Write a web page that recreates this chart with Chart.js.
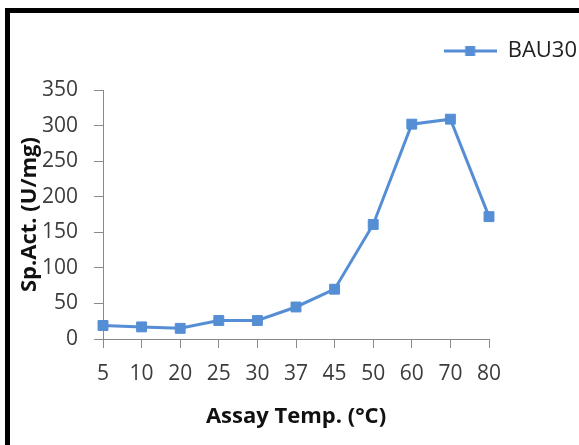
<!DOCTYPE html>
<html>
<head>
<meta charset="utf-8">
<script src="https://cdn.jsdelivr.net/npm/chart.js@4"></script>
<style>
  html, body { margin: 0; padding: 0; background: #fff; overflow: hidden; }
  #wrap { position: relative; width: 579px; height: 445px; }
  #myChart { position: absolute; left: 0; top: 0; }
  #frame {
    position: absolute; left: 5px; top: 8px; width: 700px; height: 600px;
    border-left: 5px solid #000; border-top: 5px solid #000; pointer-events: none;
  }
</style>
</head>
<body>
<div id="wrap">
  <canvas id="myChart" width="579" height="445"></canvas>
  <div id="frame"></div>
</div>
<script>
    // Assay temperatures (°C) and specific activity (U/mg)
    const temps = ['5', '10', '20', '25', '30', '37', '45', '50', '60', '70', '80'];
    const activity = [19, 17, 15, 26, 26, 45, 70, 161, 302, 309, 172];
    const yTicks = [0, 50, 100, 150, 200, 250, 300, 350];
    const seriesName = 'BAU30';

    const blue = '#558ED5';
    const axisGrey = '#898989';
    const textGrey = '#3c3c3c';
    const fontFamily = '"Open Sans", "Liberation Sans", sans-serif';

    // legend symbol: line with a square marker in the middle
    const legendSymbol = document.createElement('canvas');
    legendSymbol.width = 53;
    legendSymbol.height = 12;
    (function () {
      const c = legendSymbol.getContext('2d');
      c.strokeStyle = blue;
      c.lineWidth = 3;
      c.beginPath();
      c.moveTo(0, 6);
      c.lineTo(53, 6);
      c.stroke();
      c.fillStyle = blue;
      c.fillRect(21.5, 1, 10, 10);
    })();

    const config = {
      type: 'line',
      data: {
        labels: temps,
        datasets: [{
          label: seriesName,
          data: activity,
          borderColor: blue,
          backgroundColor: blue,
          borderWidth: 3,
          tension: 0,
          pointStyle: 'rect',
          pointRadius: 7,
          pointBorderWidth: 1,
          pointBorderColor: blue,
          pointBackgroundColor: blue,
          xAxisID: 'x',
          yAxisID: 'y'
        }]
      },
      options: {
        responsive: false,
        animation: false,
        devicePixelRatio: 1,
        layout: { padding: { top: 38, left: 0, right: 0, bottom: 0 } },
        plugins: {
          tooltip: { enabled: false },
          legend: {
            position: 'top',
            align: 'end',
            labels: {
              usePointStyle: true,
              pointStyle: legendSymbol,
              pointStyleWidth: 53,
              padding: 2,
              color: '#222',
              font: { family: fontFamily, size: 22 }
            }
          }
        },
        scales: {
          x: {
            type: 'category',
            position: 'bottom',
            offset: false,
            grid: { display: true, drawOnChartArea: false, drawTicks: true, tickLength: 9, color: axisGrey },
            border: { display: true, color: axisGrey, width: 1 },
            ticks: { color: textGrey, padding: 13, maxRotation: 0, autoSkip: false, font: { family: fontFamily, size: 21 } },
            title: {
              display: true,
              text: 'Assay Temp. (°C)',
              color: '#111',
              font: { family: fontFamily, size: 22, weight: 'bold' },
              padding: { top: 0, bottom: 15 }
            },
            afterFit: (s) => { s.height = 106; }
          },
          y: {
            type: 'linear',
            position: 'left',
            min: 0,
            max: 350,
            afterBuildTicks: (s) => { s.ticks = yTicks.map(v => ({ value: v })); },
            grid: { display: true, drawOnChartArea: false, drawTicks: true, tickLength: 9, color: axisGrey },
            border: { display: true, color: axisGrey, width: 1 },
            ticks: { color: textGrey, padding: 16, font: { family: fontFamily, size: 21 } },
            title: {
              display: true,
              text: 'Sp.Act. (U/mg)',
              color: '#111',
              font: { family: fontFamily, size: 22, weight: 'bold' },
              padding: { top: 17, bottom: 0 }
            },
            afterFit: (s) => { s.width = 103; }
          },
          // empty spacer axes that keep room above and to the right of the plot
          xTop: {
            type: 'category',
            position: 'top',
            grid: { display: false },
            border: { display: false },
            ticks: { display: false },
            afterFit: (s) => { s.height = 18; }
          },
          yRight: {
            type: 'linear',
            position: 'right',
            grid: { display: false },
            border: { display: false },
            ticks: { display: false },
            afterFit: (s) => { s.width = 90; }
          }
        }
      }
    };

    const myChart = new Chart(document.getElementById('myChart'), config);
</script>
</body>
</html>
